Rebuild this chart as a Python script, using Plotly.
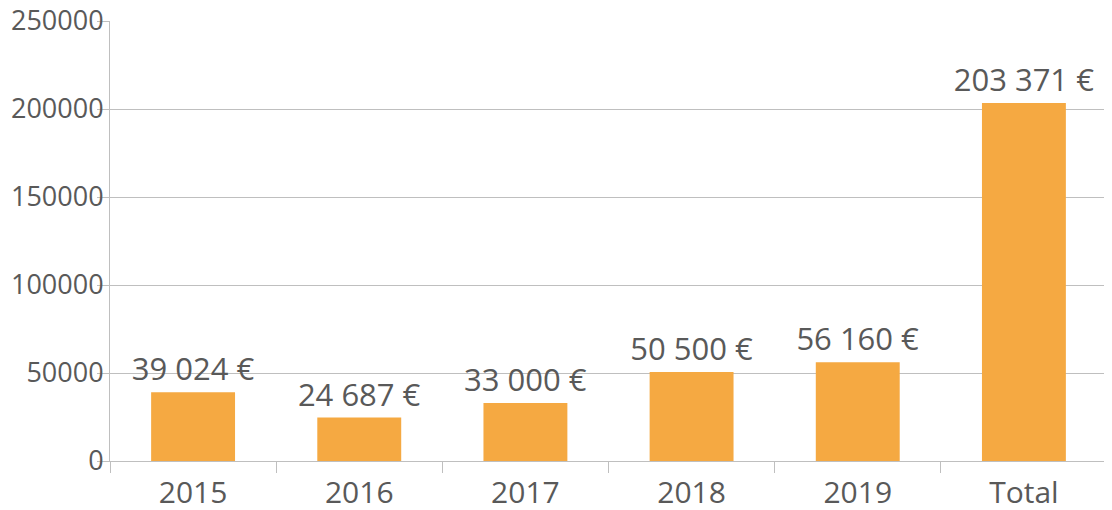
import plotly.graph_objects as go

categories = ["2015", "2016", "2017", "2018", "2019", "Total"]
values = [39024, 24687, 33000, 50500, 56160, 203371]
labels = ["39 024 €", "24 687 €", "33 000 €", "50 500 €", "56 160 €", "203 371 €"]
y_ticks = [0, 50000, 100000, 150000, 200000, 250000]

text_color = "#595959"
grid_color = "#BFBFBF"
bar_color = "#F5A942"
font_family = "Open Sans"

fig = go.Figure()
fig.add_trace(go.Bar(
    x=categories, y=values, text=labels, textposition="outside",
    constraintext="none",
    marker=dict(color=bar_color, line=dict(width=0)),
    textfont=dict(family=font_family, size=31, color=text_color),
    cliponaxis=False, width=0.505,
))

fig.update_layout(
    width=1112, height=510,
    margin=dict(l=102, r=13, t=13, b=57),
    plot_bgcolor="white", paper_bgcolor="white",
    showlegend=False,
    font=dict(family=font_family, color=text_color),
    xaxis=dict(
        type="category", showline=True, linecolor=grid_color, linewidth=1,
        ticks="outside", tickson="boundaries", ticklen=11, tickcolor=grid_color,
        tickfont=dict(family=font_family, size=30, color=text_color),
        ticklabelstandoff=5, ticklabeloverflow="allow",
        showgrid=False, automargin=False,
    ),
    yaxis=dict(
        range=[0, 250000], tickvals=y_ticks, ticktext=[str(v) for v in y_ticks],
        showgrid=True, gridcolor=grid_color, gridwidth=1,
        showline=True, mirror=True, linecolor=grid_color, linewidth=1,
        ticks="outside", ticklen=12, tickcolor=grid_color,
        tickfont=dict(family=font_family, size=27, color=text_color),
        ticklabelstandoff=-12, ticklabeloverflow="allow",
        zeroline=False, automargin=False,
    ),
)

fig.write_html("out.html")
